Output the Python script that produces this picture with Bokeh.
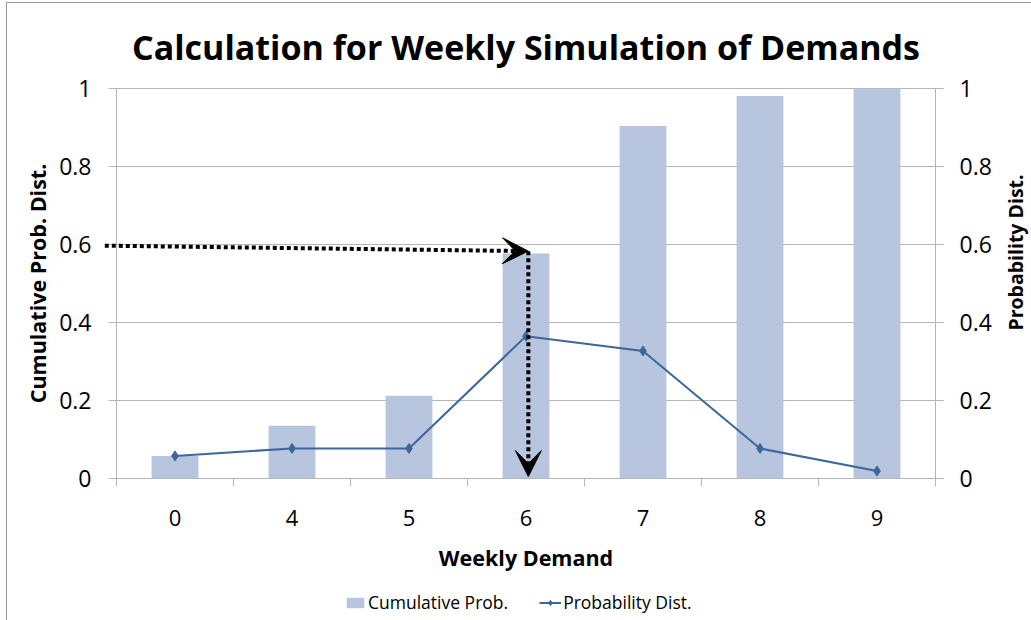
import math
from bokeh.plotting import figure
from bokeh.models import (Range1d, LinearAxis, FixedTicker, PrintfTickFormatter, Arrow,
                          VeeHead, Legend, LegendItem, ColumnDataSource)
from bokeh.core.properties import value
from bokeh.embed import file_html
from bokeh.resources import INLINE

# ---- data ----
demand = ["0", "4", "5", "6", "7", "8", "9"]
cumulative_prob = [0.058, 0.135, 0.212, 0.577, 0.904, 0.981, 1.0]
probability = [0.058, 0.077, 0.077, 0.365, 0.327, 0.077, 0.019]
y_ticks = [0, 0.2, 0.4, 0.6, 0.8, 1]
random_number = 0.597          # lookup value shown by the dotted arrow
chosen_demand = "6"            # category selected by that lookup

title_text = "Calculation for Weekly Simulation of Demands"
x_title = "Weekly Demand"
y_title = "Cumulative Prob. Dist."
y2_title = "Probability Dist."

# ---- style / layout ----
BAR = "#b7c5df"
LINE = "#3d6699"
GRID = "#b5b5b5"
BORDER = "#9a9a9a"
FONT = "Open Sans"
W, H = 1031, 620
OX, OY = 116, 478          # pixel position of (0, 0) of the plot area
PX_X, PX_Y = 117, 390      # pixels per category / per unit

n = len(demand)
xs = [i + 0.5 for i in range(n)]
src = ColumnDataSource(dict(x=xs, cum=cumulative_prob, prob=probability))

x_rng = Range1d(-OX / PX_X, (W - OX) / PX_X)
y_rng = Range1d(-(H - OY) / PX_Y, OY / PX_Y)

p = figure(frame_width=W, frame_height=H, x_range=x_rng, y_range=y_rng,
           output_backend="svg", toolbar_location=None,
           min_border_left=0, min_border_right=0, min_border_top=0, min_border_bottom=0,
           background_fill_color="white", border_fill_color="white", outline_line_color=None,
           x_axis_type=None, y_axis_type=None)
p.extra_y_ranges = {"right": Range1d(y_rng.start, y_rng.end)}
p.grid.visible = False

# chart-area border (left and top edges are the ones inside the picture)
bx = x_rng.start + 6 / PX_X
by = y_rng.end - 2 / PX_Y
p.segment(x0=[bx, bx], x1=[bx, x_rng.end], y0=[y_rng.start, by], y1=[by, by],
          line_color=BORDER, line_width=1)

# horizontal gridlines over the plot area
p.segment(x0=[0] * len(y_ticks), x1=[n] * len(y_ticks), y0=y_ticks, y1=y_ticks,
          line_color=GRID, line_width=1)

# bars
bars = p.vbar(x="x", top="cum", width=0.4, source=src, fill_color=BAR, line_color=None)
# probability line
ln = p.line(x="x", y="prob", source=src, line_color=LINE, line_width=2, y_range_name="right")
mk = p.scatter(x="x", y="prob", source=src, marker="diamond", size=10,
               fill_color=LINE, line_color=LINE, y_range_name="right")

def style_axis(ax, size="23px"):
    ax.axis_line_color = GRID
    ax.major_tick_line_color = GRID
    ax.minor_tick_line_color = GRID
    ax.major_tick_in = 0
    ax.minor_tick_in = 0
    ax.major_label_text_font = FONT
    ax.major_label_text_font_size = size
    ax.major_label_text_color = "black"

# x axis at y = 0
xa = LinearAxis(fixed_location=0, bounds=(0, n),
                ticker=FixedTicker(ticks=xs, minor_ticks=list(range(n + 1))))
style_axis(xa, "22px")
xa.major_label_overrides = {x: d for x, d in zip(xs, demand)}
xa.major_tick_out = 0
xa.minor_tick_out = 8
xa.major_label_standoff = 23
p.add_layout(xa, "below")

# left y axis at x = 0
ya = LinearAxis(fixed_location=0, bounds=(0, 1), ticker=FixedTicker(ticks=y_ticks),
                formatter=PrintfTickFormatter(format="%g"))
style_axis(ya)
ya.major_tick_out = 8
ya.minor_tick_out = 0
ya.major_label_standoff = 17
p.add_layout(ya, "left")

# right y axis at the end of the categories
ra = LinearAxis(fixed_location=n, bounds=(0, 1), y_range_name="right",
                ticker=FixedTicker(ticks=y_ticks), formatter=PrintfTickFormatter(format="%g"))
style_axis(ra)
ra.major_tick_out = 8
ra.minor_tick_out = 0
ra.major_label_standoff = 16
p.add_layout(ra, "right")

# titles
p.text(x=[n / 2], y=[1], text=[title_text], y_offset=-42, text_align="center",
       text_baseline="alphabetic", text_font=value(FONT), text_font_style="bold",
       text_font_size="34px", text_color="black")
p.text(x=[n / 2], y=[0], text=[x_title], y_offset=79, text_align="center",
       text_baseline="middle", text_font=value(FONT), text_font_style="bold",
       text_font_size="21.5px", text_color="black")
p.text(x=[0], y=[0.5], text=[y_title], x_offset=-79, angle=math.pi / 2, text_align="center",
       text_baseline="middle", text_font=value(FONT), text_font_style="bold",
       text_font_size="21.5px", text_color="black")
p.text(x=[n], y=[0.5], text=[y2_title], x_offset=80, y_offset=-31, angle=math.pi / 2,
       text_align="center", text_baseline="middle", text_font=value(FONT),
       text_font_style="bold", text_font_size="19.5px", text_color="black")

# dotted lookup arrows
k = demand.index(chosen_demand)
tx = xs[k] + 0.02
y_hit = cumulative_prob[k] + 0.006
p.add_layout(Arrow(end=VeeHead(size=26, fill_color="black", line_color="black"),
                   x_start=-0.1, y_start=random_number, x_end=tx, y_end=y_hit,
                   line_color="black", line_width=4, line_dash="4 3"))
p.add_layout(Arrow(end=VeeHead(size=26, fill_color="black", line_color="black"),
                   x_start=tx, y_start=y_hit, x_end=tx, y_end=0.005,
                   line_color="black", line_width=4, line_dash="4 3"))

# legend (inside the canvas-wide frame, below the plot area)
legend = Legend(items=[LegendItem(label="Cumulative Prob.", renderers=[bars]),
                       LegendItem(label="Probability Dist.", renderers=[ln, mk])],
                orientation="horizontal", location=(344, 6),
                label_text_font=FONT, label_text_font_size="17.5px", label_text_color="black",
                glyph_width=22, glyph_height=13, label_standoff=2, spacing=31,
                padding=4, margin=0, border_line_color=None, background_fill_alpha=0)
p.add_layout(legend, "center")

open("out.html", "w").write(file_html(p, INLINE))
